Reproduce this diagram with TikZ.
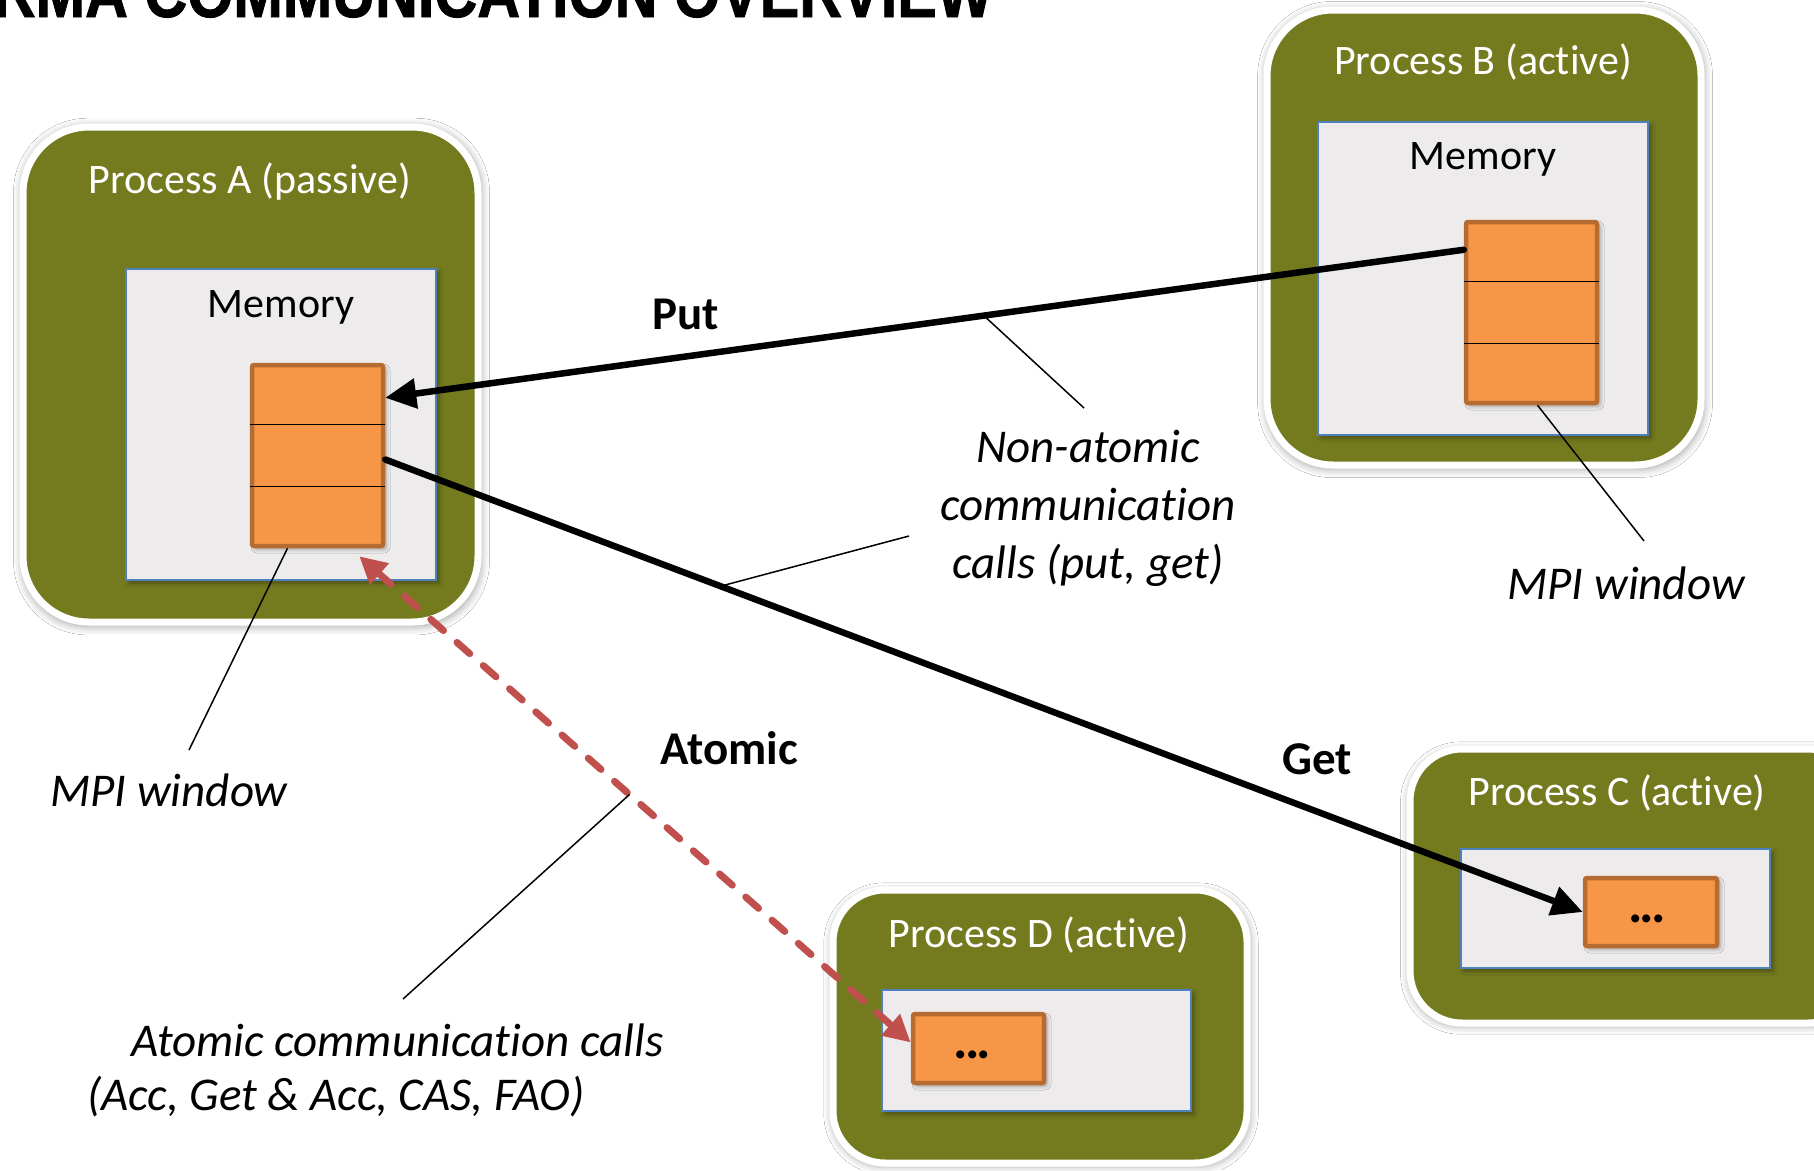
\documentclass[tikz,border=0pt]{standalone}
\usepackage{fontspec}
\setmainfont{Carlito}[Ligatures=NoCommon]
\newfontfamily\titlefont[FakeStretch=0.86,FakeBold=1.2]{Liberation Sans}
\usetikzlibrary{arrows.meta,calc,shadows.blur}

\definecolor{procgreen}{RGB}{116,122,30}
\definecolor{memgray}{RGB}{237,235,236}
\definecolor{memblue}{RGB}{79,129,189}
\definecolor{winorange}{RGB}{247,150,70}
\definecolor{winborder}{RGB}{182,108,48}
\definecolor{atomred}{RGB}{192,80,77}

% three heavy, tightly set dots
\newcommand{\tightdots}{.\kern-3pt.\kern-3pt.}

\begin{document}
\begin{tikzpicture}[x=1pt,y=-1pt,
  proc/.style={draw=white, line width=7pt, fill=procgreen, inner sep=0pt,
    blur shadow={shadow xshift=1pt, shadow yshift=-2pt, shadow scale=1.015,
                 shadow blur radius=7pt, shadow opacity=30}},
  procA/.style={proc, rounded corners=66pt},
  procS/.style={proc, rounded corners=52pt},
  mem/.style={draw=memblue, line width=1.6pt, fill=memgray, inner sep=0pt,
    blur shadow={shadow xshift=3pt, shadow yshift=-3pt,
                 shadow blur radius=4pt, shadow opacity=35}},
  win/.style={draw=winborder, line width=4.5pt, fill=winorange, inner sep=0pt,
    rounded corners=2pt,
    blur shadow={shadow xshift=3pt, shadow yshift=-3pt,
                 shadow blur radius=4pt, shadow opacity=35}},
  plabel/.style={text=white, font=\fontsize{42}{50}\selectfont, inner sep=0pt},
  mlabel/.style={text=black, font=\fontsize{42}{50}\selectfont, inner sep=0pt},
  dots/.style={font=\bfseries\fontsize{54}{56}\selectfont, inner sep=0pt},
  oplabel/.style={font=\bfseries\fontsize{47}{56}\selectfont, inner sep=0pt},
  note/.style={font=\itshape\fontsize{47}{58}\selectfont, inner sep=0pt},
  leader/.style={draw=black, line width=1.5pt},
  rmaarrow/.style={draw=black, line width=6.5pt, line cap=round,
    -{Triangle[length=31pt,width=29pt]}},
  atomarrow/.style={draw=atomred, line width=7pt, line cap=round,
    dash pattern=on 17pt off 18pt,
    {Triangle[length=27pt,width=27pt]}-{Triangle[length=27pt,width=27pt]}},
  divider/.style={draw=black, line width=1.5pt}
]
\useasboundingbox (0,0) rectangle (1814,1170);
\fill[white] (0,0) rectangle (1814,1170);

% heading, partly above the page edge
\node[anchor=base east, inner sep=0pt, font=\titlefont\bfseries\fontsize{69}{80}\selectfont]
  (title) at (993,17) {RMA COMMUNICATION OVERVIEW};

% process boxes
\node[procA, minimum width=455pt, minimum height=495pt] (pA) at (250.5,374.5) {};
\node[procA, minimum width=434pt, minimum height=455pt] (pB) at (1484,237.5) {};
\node[procS, minimum width=450pt, minimum height=274pt] (pC) at (1635,886) {};
\node[procS, minimum width=414pt, minimum height=273pt] (pD) at (1040,1026.5) {};

\node[plabel] (tA) at (250,182) {Process A (passive)};
\node[plabel] (tB) at (1483,62) {Process B (active)};
\node[plabel] (tC) at (1617,793) {Process C (active)};
\node[plabel] (tD) at (1039,935) {Process D (active)};

% memory areas
\node[mem, minimum width=310pt, minimum height=311pt] (mA) at (281,424.5) {};
\node[mem, minimum width=330pt, minimum height=313pt] (mB) at (1483,278.5) {};
\node[mem, minimum width=309pt, minimum height=119pt] (mC) at (1615.5,908.5) {};
\node[mem, minimum width=309pt, minimum height=121pt] (mD) at (1036.5,1050.5) {};

\node[mlabel] (lA) at (281,307) {Memory};
\node[mlabel] (lB) at (1483,159) {Memory};

% MPI windows
\node[win, minimum width=131pt, minimum height=181pt] (oA) at (317.5,455.5) {};
\node[win, minimum width=131pt, minimum height=181pt] (oB) at (1531.5,312.5) {};
\node[win, minimum width=132pt, minimum height=68pt] (oC) at (1651,912) {};
\node[win, minimum width=131pt, minimum height=69pt] (oD) at (978.5,1048.5) {};

\draw[divider] ($(oA.north west)!1/3!(oA.south west)$) -- ($(oA.north east)!1/3!(oA.south east)$);
\draw[divider] ($(oA.north west)!2/3!(oA.south west)$) -- ($(oA.north east)!2/3!(oA.south east)$);
\draw[divider] ($(oB.north west)!1/3!(oB.south west)$) -- ($(oB.north east)!1/3!(oB.south east)$);
\draw[divider] ($(oB.north west)!2/3!(oB.south west)$) -- ($(oB.north east)!2/3!(oB.south east)$);

\node[dots, anchor=base] (dC) at ($(oC)+(-4,10)$) {\tightdots};
\node[dots, anchor=base] (dD) at ($(oD)+(-6,10)$) {\tightdots};

% communication arrows
\coordinate (putS) at ($(oB.north west)+(0,30)$);
\coordinate (putE) at ($(oA.north east)+(0,35)$);
\coordinate (getS) at ($(oA.east)+(0,4)$);
\coordinate (atA) at ($(oA.south east)+(-26,8)$);
\coordinate (atD) at ($(oD.west)+(0,-6)$);

\draw[rmaarrow] (putS) -- (putE);
\draw[rmaarrow] (getS) -- (oC.west);
\draw[atomarrow] (atA) -- (atD);

\path (putS) -- (putE) coordinate[pos=0.445] (putMid);
\path (getS) -- (oC.west) coordinate[pos=0.28] (getMid);
\path (atA) -- (atD) coordinate[pos=0.49] (atMid);

\node[oplabel] (putL) at (686,314) {Put};
\node[oplabel] (getL) at (1317,759) {Get};
\node[oplabel] (atL) at (729,748) {Atomic};

% annotations
\node[note, align=center] (nonat) at (1088,508)
  {Non-atomic\\communication\\calls (put, get)};
\coordinate (nonTop) at (1084,408);
\coordinate (nonLow) at (909,536);
\draw[leader] (nonTop) -- (putMid);
\draw[leader] (nonLow) -- (getMid);

\node[note] (mwB) at (1626,583) {MPI window};
\coordinate (mwBtop) at (1644,541);
\draw[leader] ($(oB.south)+(6,0)$) -- (mwBtop);

\node[note] (mwA) at (169,790) {MPI window};
\coordinate (mwAtop) at (189,750);
\draw[leader] ($(oA.south)+(-30,0)$) -- (mwAtop);

\node[note, anchor=west] (atc1) at (131,1040) {Atomic communication calls};
\node[note, anchor=west] (atc2) at (87,1097) {(Acc, Get \& Acc, CAS, FAO)};
\coordinate (atcTop) at (403,999);
\draw[leader] (atcTop) -- (atMid);
\end{tikzpicture}
\end{document}
